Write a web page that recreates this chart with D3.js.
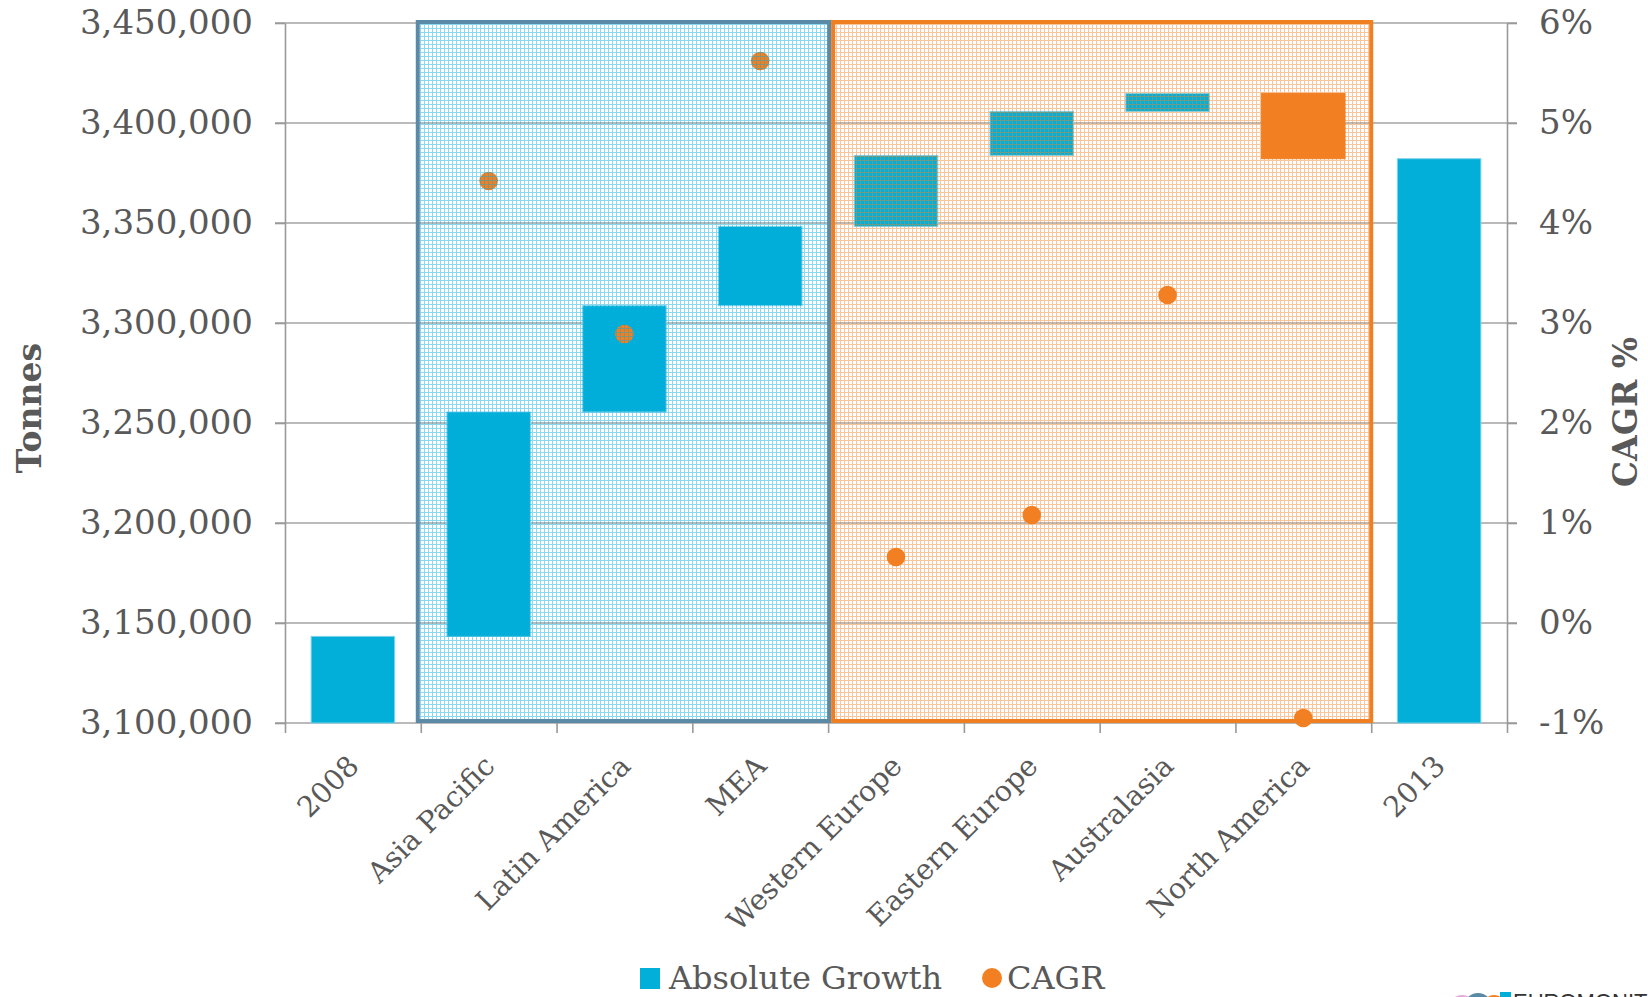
<!DOCTYPE html>
<html>
<head>
<meta charset="utf-8">
<script src="https://cdn.jsdelivr.net/npm/d3@7"></script>
<style>
  html, body { margin: 0; padding: 0; background: #fff; }
  svg { display: block; font-family: "DejaVu Serif", serif; }
</style>
</head>
<body>
<script>
// categories along the x axis
var categories = ["2008", "Asia Pacific", "Latin America", "MEA", "Western Europe",
                  "Eastern Europe", "Australasia", "North America", "2013"];
// start level, regional changes (tonnes), end level
var startValue = 3143300;
var growth = [112200, 53150, 39650, 35500, 22000, 9000, -32650];
var endValue = 3382150;
// CAGR % per region
var cagr = [4.42, 2.89, 5.62, 0.66, 1.08, 3.28, -0.95];

var yTicks = [3100000, 3150000, 3200000, 3250000, 3300000, 3350000, 3400000, 3450000];
var y2Ticks = [-1, 0, 1, 2, 3, 4, 5, 6];

var width = 1648, height = 997;
var margin = {top: 23, right: 141, bottom: 274, left: 285};
var blue = "#02afd8", orange = "#f27f22", textCol = "#595959", gridCol = "#a3a3a3";

// build waterfall rows
var rows = [];
var level = startValue;
rows.push({name: categories[0], y0: 3100000, y1: startValue, color: blue});
growth.forEach(function(g, i) {
    rows.push({name: categories[i + 1], y0: level, y1: level + g, color: g < 0 ? orange : blue});
    level += g;
});
rows.push({name: categories[8], y0: 3100000, y1: endValue, color: blue});

var x = d3.scaleBand().domain(categories)
    .range([margin.left, width - margin.right])
    .paddingInner(0.385).paddingOuter(0.1925);
var xEdge = d3.scaleLinear().domain([0, categories.length])
    .range([margin.left, width - margin.right]);
var y = d3.scaleLinear().domain([3100000, 3450000])
    .range([height - margin.bottom, margin.top]);
var y2 = d3.scaleLinear().domain([-1, 6])
    .range([height - margin.bottom, margin.top]);

var svg = d3.select("body").append("svg")
    .attr("width", width).attr("height", height);

var defs = svg.append("defs");
function gridPattern(id, col) {
    var p = defs.append("pattern").attr("id", id)
        .attr("patternUnits", "userSpaceOnUse")
        .attr("width", 4).attr("height", 4);
    p.append("rect").attr("x", 0).attr("y", 0).attr("width", 4).attr("height", 1).attr("fill", col);
    p.append("rect").attr("x", 0).attr("y", 1).attr("width", 1).attr("height", 3).attr("fill", col);
}
gridPattern("gridBlue", "rgba(0,170,220,0.45)");
gridPattern("gridOrange", "rgba(242,128,34,0.45)");

// gridlines
svg.append("g")
    .selectAll("line")
    .data(yTicks)
    .join("line")
    .attr("x1", margin.left - 10)
    .attr("x2", width - margin.right + 10)
    .attr("y1", d => y(d)).attr("y2", d => y(d))
    .attr("stroke", gridCol).attr("stroke-width", 1.6);

// bars
svg.append("g")
    .selectAll("rect")
    .data(rows)
    .join("rect")
    .attr("x", d => x(d.name))
    .attr("width", x.bandwidth())
    .attr("y", d => y(Math.max(d.y0, d.y1)))
    .attr("height", d => Math.abs(y(d.y0) - y(d.y1)))
    .attr("fill", d => d.color)
    .attr("stroke", d => d.color === blue ? "#7ed3ea" : orange)
    .attr("stroke-width", 1);

// CAGR dots
svg.append("g")
    .selectAll("circle")
    .data(cagr)
    .join("circle")
    .attr("cx", (d, i) => x(categories[i + 1]) + x.bandwidth() / 2)
    .attr("cy", d => y2(d))
    .attr("r", 9.3)
    .attr("fill", orange);

// shaded region overlays
var regions = [
    {from: 1, to: 4, dx0: -3, dx1: 1, fill: "url(#gridBlue)", stroke: "#5b8aa6"},
    {from: 4, to: 8, dx0: 5, dx1: 0, fill: "url(#gridOrange)", stroke: "#f07f22"}
];
svg.append("g")
    .selectAll("rect")
    .data(regions)
    .join("rect")
    .attr("x", d => xEdge(d.from) + d.dx0)
    .attr("width", d => xEdge(d.to) + d.dx1 - xEdge(d.from) - d.dx0)
    .attr("y", margin.top - 1)
    .attr("height", height - margin.bottom - margin.top - 1)
    .attr("fill", d => d.fill)
    .attr("stroke", d => d.stroke)
    .attr("stroke-width", 4);

// axes
function styleAxis(g) {
    g.selectAll(".domain").attr("stroke", "#999").attr("stroke-width", 1.6);
    g.selectAll(".tick line").attr("stroke", "#999").attr("stroke-width", 1.6);
    g.selectAll("text").attr("fill", textCol).style("font-family", "DejaVu Serif")
        .style("font-size", "34px");
}

svg.append("g")
    .attr("transform", `translate(${margin.left},0)`)
    .call(d3.axisLeft(y).tickValues(yTicks).tickFormat(d3.format(",")).tickSize(10).tickPadding(22).tickSizeOuter(0))
    .call(styleAxis);

svg.append("g")
    .attr("transform", `translate(${width - margin.right},0)`)
    .call(d3.axisRight(y2).tickValues(y2Ticks).tickFormat(d => d + "%").tickSize(10).tickPadding(22).tickSizeOuter(0))
    .call(styleAxis);

var xAxis = svg.append("g")
    .attr("transform", `translate(0,${height - margin.bottom})`)
    .call(d3.axisBottom(xEdge).tickValues(d3.range(categories.length + 1)).tickFormat("").tickSize(10).tickSizeOuter(0));
xAxis.select(".domain").remove();
xAxis.selectAll(".tick line").attr("stroke", "#999").attr("stroke-width", 1.6);

// category labels
svg.append("g")
    .selectAll("text")
    .data(categories)
    .join("text")
    .attr("transform", d => `translate(${x(d) + x.bandwidth() / 2 + 1},${height - margin.bottom + 38}) rotate(-45)`)
    .attr("text-anchor", "end")
    .attr("dominant-baseline", "central")
    .attr("fill", textCol)
    .style("font-size", "28.5px")
    .text(d => d);

// axis titles
svg.append("text")
    .attr("transform", `translate(29,${(margin.top + height - margin.bottom) / 2 + 35}) rotate(-90)`)
    .attr("text-anchor", "middle").attr("dominant-baseline", "central")
    .attr("fill", textCol).style("font-weight", "bold").style("font-size", "33px")
    .text("Tonnes");

svg.append("text")
    .attr("transform", `translate(1625,${(margin.top + height - margin.bottom) / 2 + 39}) rotate(-90)`)
    .attr("text-anchor", "middle").attr("dominant-baseline", "central")
    .attr("fill", textCol).style("font-weight", "bold").style("font-size", "33px")
    .text("CAGR %");

// legend
var legend = svg.append("g").attr("transform", "translate(640,979)");
legend.append("rect").attr("x", 0).attr("y", -11).attr("width", 20).attr("height", 21).attr("fill", blue);
legend.append("text").attr("x", 29).attr("y", 10).attr("fill", textCol)
    .style("font-size", "32px").text("Absolute Growth");
legend.append("circle").attr("cx", 352).attr("cy", -1).attr("r", 10).attr("fill", orange);
legend.append("text").attr("x", 367).attr("y", 10).attr("fill", textCol)
    .style("font-size", "32px").text("CAGR");

// logo peeking in at the bottom
var logo = svg.append("g").attr("transform", "translate(1440,1000)");
logo.append("circle").attr("cx", 22).attr("cy", 9).attr("r", 14).attr("fill", "#e8a8d8");
logo.append("circle").attr("cx", 38).attr("cy", 7).attr("r", 14).attr("fill", "#5b8aa6");
logo.append("circle").attr("cx", 54).attr("cy", 7).attr("r", 12).attr("fill", orange);
logo.append("rect").attr("x", 60).attr("y", -8).attr("width", 11).attr("height", 10).attr("fill", blue);
logo.append("text").attr("x", 73).attr("y", 9).attr("fill", "#333")
    .style("font-family", "Liberation Sans").style("font-size", "22px").text("EUROMONITOR");
</script>
</body>
</html>
